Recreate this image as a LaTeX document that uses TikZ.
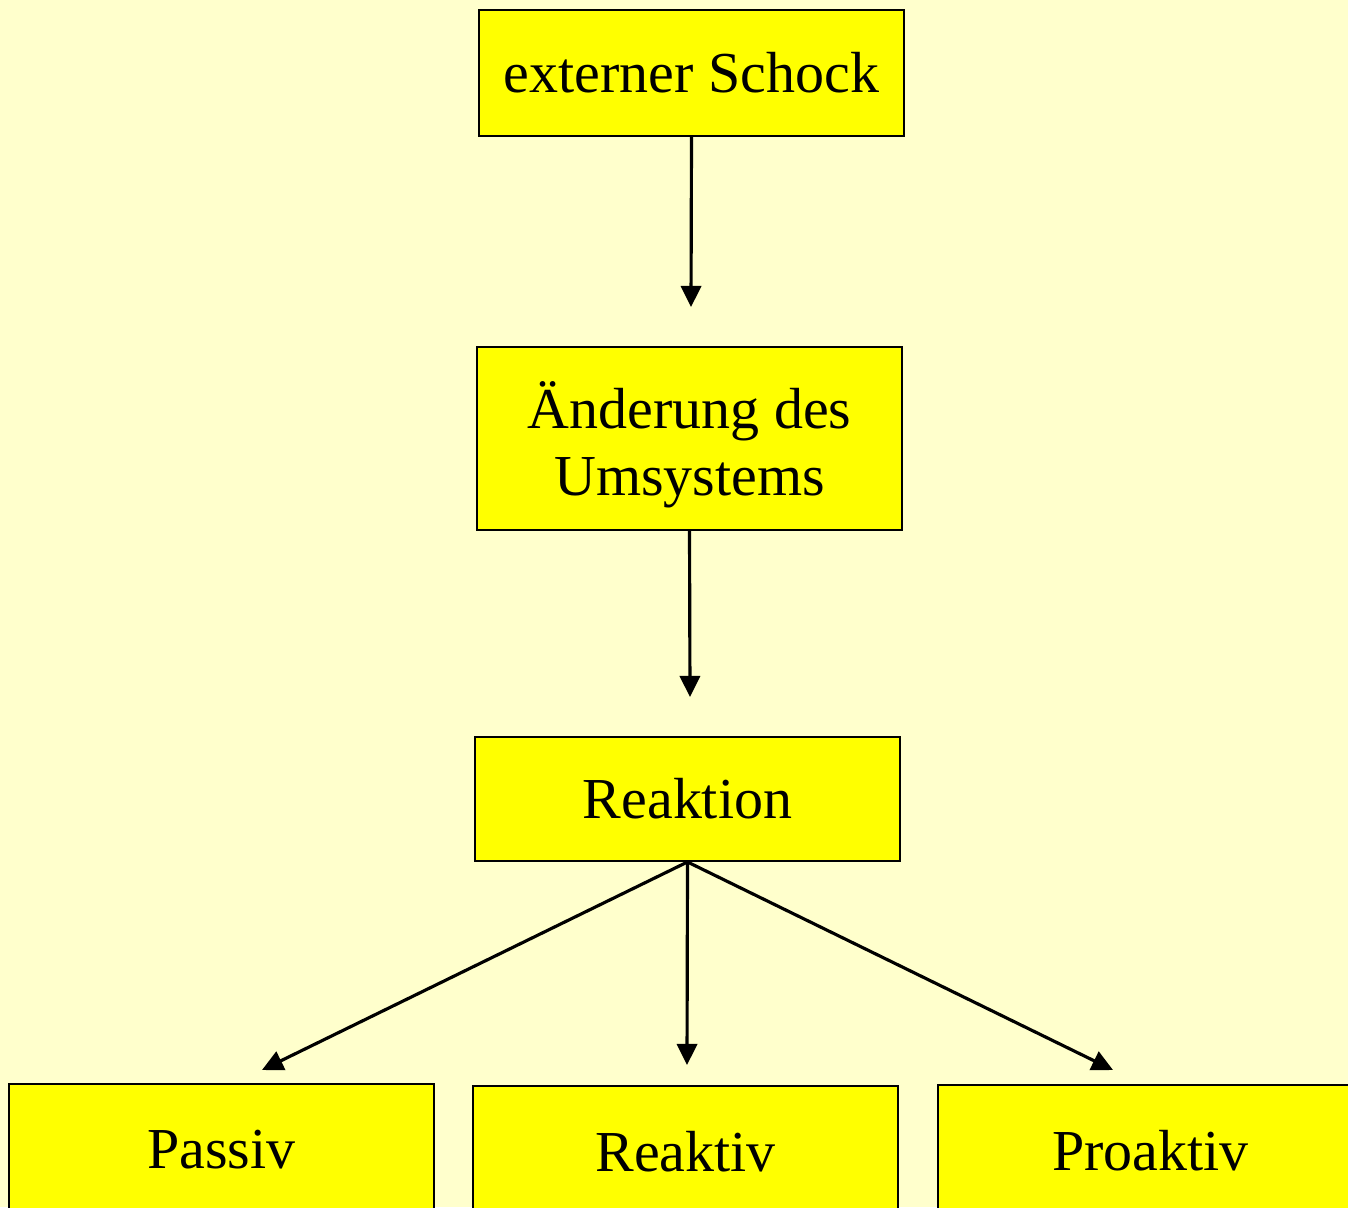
\documentclass[tikz,border=0pt]{standalone}
\usepackage{fontspec}
\setmainfont{Liberation Serif}
\usetikzlibrary{arrows.meta}
\definecolor{paper}{HTML}{FFFFCC}
\definecolor{boxfill}{HTML}{FFFF00}
\begin{document}
\begin{tikzpicture}[x=0.02cm,y=-0.02cm,
        box/.style={draw,fill=boxfill,line width=1.1pt,inner sep=0pt,
                    minimum width=8.5cm,align=center,
                    font=\fontsize{33}{38}\selectfont},
        pfeil/.style={line width=1.8pt,-{Triangle[length=12pt,width=11.5pt]}}]
    % background and frame
    \clip (0,0) rectangle (1348,1207);
    \fill[paper] (0,0) rectangle (1348,1207);

    \node[box,minimum height=2.52cm] (schock) at (691.5,73) {externer Schock};
    \node[box,minimum height=3.66cm,text depth=0pt] (umsystem) at (689.5,438.5) {Änderung des\\Umsystems};
    \node[box,minimum height=2.48cm] (reaktion) at (687.5,799) {Reaktion};
    \node[box,minimum height=2.64cm] (passiv) at (221.5,1150) {Passiv};
    \node[box,minimum height=2.64cm] (reaktiv) at (685.5,1152) {Reaktiv};
    \node[box,minimum height=2.64cm] (proaktiv) at (1150.5,1151) {Proaktiv};

    % arrow ends stop short of the boxes
    \coordinate (e1) at (691,307);
    \coordinate (e2) at (690,697);
    \coordinate (e3) at (262,1070);
    \coordinate (e4) at (687,1065);
    \coordinate (e5) at (1113,1070);

    \draw[pfeil] (schock.south) -- (e1);
    \draw[pfeil] (umsystem.south) -- (e2);
    \draw[pfeil] (reaktion.south) -- (e3);
    \draw[pfeil] (reaktion.south) -- (e4);
    \draw[pfeil] (reaktion.south) -- (e5);
\end{tikzpicture}
\end{document}
